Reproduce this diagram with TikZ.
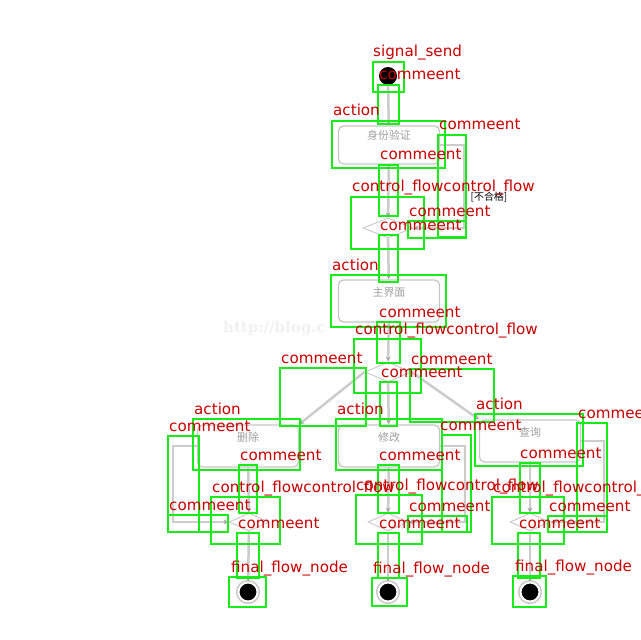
\documentclass[tikz,border=0pt]{standalone}
\usepackage{fontspec}
\usepackage{xcolor}
\usepackage{tikz}
\usetikzlibrary{positioning, shapes.geometric, arrows.meta}
\newfontfamily\cjk{Noto Sans CJK SC}
\newfontfamily\tagfont{DejaVu Sans}
\newfontfamily\wmfont{DejaVu Serif}
\definecolor{boxgreen}{RGB}{25,235,25}
\definecolor{tagred}{RGB}{200,0,0}

\begin{document}
\begin{tikzpicture}[x=1bp, y=-1bp]
	\tikzstyle{act}=[draw=gray!45, line width=1.3bp, rounded corners=5bp, minimum width=101bp, inner sep=4bp, text height=10bp, text depth=20bp, font=\cjk\fontsize{11}{11}\selectfont, text=gray!75]
	\tikzstyle{choice}=[diamond, draw=gray!40, line width=1bp, inner sep=0, minimum width=46bp, minimum height=20bp]
	\tikzstyle{startnode}=[circle, fill=black, minimum size=18bp, inner sep=0]
	\tikzstyle{endnode}=[circle, fill=black, minimum size=19bp, inner sep=0, draw=white, line width=2bp, preaction={draw=gray!45, line width=5bp}]
	\tikzstyle{flow}=[draw=gray!40, line width=2.5bp, -{Stealth[length=5bp, width=5bp, gray!70]}]
	\tikzstyle{bbox}=[draw=boxgreen, line width=2.8bp]
	\tikzstyle{tag}=[text=tagred, font=\tagfont\fontsize{15.2}{15.2}\selectfont, anchor=base west, inner sep=0]
	\useasboundingbox (0,0) rectangle (640,640);
	% activity diagram
	\node[startnode] (start) at (388,76) {};
	\node[act] (auth) at (389,145) {身份验证};
	\node[choice, minimum width=50bp] (d1) at (388,228) {};
	\node[act, minimum height=42bp] (home) at (389,301) {主界面};
	\node[choice] (d2) at (388,372) {};
	\node[act, minimum height=42bp] (del) at (248,446) {删除};
	\node[act, minimum height=42bp] (edit) at (389,446) {修改};
	\node[act, minimum height=42bp] (find) at (530,441) {查询};
	\node[choice, minimum width=40bp, minimum height=18bp] (d3) at (249,522) {};
	\node[choice, minimum width=40bp, minimum height=18bp] (d4) at (388,522) {};
	\node[choice, minimum width=40bp, minimum height=18bp] (d5) at (530,522) {};
	\node[endnode] (end1) at (248,592) {};
	\node[endnode] (end2) at (388,592) {};
	\node[endnode] (end3) at (530,592) {};
	\node[font=\cjk\fontsize{10}{10}\selectfont] (guard) at (489,197) {[不合格]};
	\node[font=\wmfont\bfseries\fontsize{15}{15}\selectfont, text=gray!12, anchor=west, inner sep=0] (mark) at (223,328) {http://blog.c};
	\draw[flow] (start) -- (auth);
	\draw[flow] (auth) -- (d1);
	\draw[flow] (auth.east) -- ++(24,0) |- (d1.east);
	\draw[flow] (d1) -- (home);
	\draw[flow] (home) -- (d2);
	\draw[flow] (d2.west) -- (del.north east);
	\draw[flow] (d2) -- (edit);
	\draw[flow] (d2.east) -- (find.north west);
	\draw[flow] (del) -- (d3);
	\draw[flow] (edit) -- (d4);
	\draw[flow] (find) -- (d5);
	\draw[flow] (del.west) -- ++(-24,0) |- (d3.west);
	\draw[flow] (edit.east) -- ++(25,0) |- (d4.east);
	\draw[flow] (find.east) -- ++(23,0) |- (d5.east);
	\draw[flow] (d3) -- (end1);
	\draw[flow] (d4) -- (end2);
	\draw[flow] (d5) -- (end3);
	% detection boxes
	\draw[bbox] (373,62) rectangle (404,92); \node[tag] (t1) at (373,57) {signal\_send};
	\draw[bbox] (378,85) rectangle (399,124); \node[tag] (t2) at (379,80) {commeent};
	\draw[bbox] (332,121) rectangle (445,168); \node[tag] (t3) at (333,116) {action};
	\draw[bbox] (438,135) rectangle (466,237); \node[tag] (t4) at (439,130) {commeent};
	\draw[bbox] (379,165) rectangle (398,216); \node[tag] (t5) at (380,160) {commeent};
	\draw[bbox] (351,197) rectangle (424,249); \node[tag] (t6) at (352,192) {control\_flowcontrol\_flow};
	\draw[bbox] (408,221) rectangle (466,238); \node[tag] (t7) at (409,216) {commeent};
	\draw[bbox] (379,235) rectangle (398,282); \node[tag] (t8) at (380,230) {commeent};
	\draw[bbox] (331,275) rectangle (446,327); \node[tag] (t9) at (332,270) {action};
	\draw[bbox] (377,322) rectangle (400,363); \node[tag] (t10) at (379,317) {commeent};
	\draw[bbox] (354,339) rectangle (421,393); \node[tag] (t11) at (355,334) {control\_flowcontrol\_flow};
	\draw[bbox] (280,368) rectangle (366,426); \node[tag] (t12) at (281,363) {commeent};
	\draw[bbox] (410,369) rectangle (494,422); \node[tag] (t13) at (411,364) {commeent};
	\draw[bbox] (380,382) rectangle (397,426); \node[tag] (t14) at (381,377) {commeent};
	\draw[bbox] (193,419) rectangle (300,470); \node[tag] (t15) at (194,414) {action};
	\draw[bbox] (336,419) rectangle (442,470); \node[tag] (t16) at (337,414) {action};
	\draw[bbox] (475,414) rectangle (583,466); \node[tag] (t17) at (476,409) {action};
	\draw[bbox] (168,436) rectangle (199,532); \node[tag] (t18) at (169,431) {commeent};
	\draw[bbox] (442,435) rectangle (471,532); \node[tag] (t19) at (440,430) {commeent};
	\draw[bbox] (577,423) rectangle (607,532); \node[tag] (t20) at (578,418) {commeent};
	\draw[bbox] (239,465) rectangle (257,513); \node[tag] (t21) at (240,460) {commeent};
	\draw[bbox] (378,465) rectangle (399,513); \node[tag] (t22) at (379,460) {commeent};
	\draw[bbox] (520,463) rectangle (540,513); \node[tag] (t23) at (520,458) {commeent};
	\draw[bbox] (211,497) rectangle (280,544); \node[tag] (t24) at (212,492) {control\_flowcontrol\_flow};
	\draw[bbox] (356,495) rectangle (422,544); \node[tag] (t25) at (356,490) {control\_flowcontrol\_flow};
	\draw[bbox] (492,497) rectangle (564,544); \node[tag] (t26) at (493,492) {control\_flowcontrol\_flow};
	\draw[bbox] (168,515) rectangle (228,532); \node[tag] (t27) at (169,510) {commeent};
	\draw[bbox] (408,516) rectangle (467,532); \node[tag] (t28) at (409,511) {commeent};
	\draw[bbox] (548,516) rectangle (607,532); \node[tag] (t29) at (549,511) {commeent};
	\draw[bbox] (237,533) rectangle (259,578); \node[tag] (t30) at (238,528) {commeent};
	\draw[bbox] (378,533) rectangle (399,578); \node[tag] (t31) at (379,528) {commeent};
	\draw[bbox] (518,533) rectangle (540,578); \node[tag] (t32) at (519,528) {commeent};
	\draw[bbox] (229,577) rectangle (266,607); \node[tag] (t33) at (231,572) {final\_flow\_node};
	\draw[bbox] (372,578) rectangle (407,606); \node[tag] (t34) at (373,573) {final\_flow\_node};
	\draw[bbox] (513,576) rectangle (546,607); \node[tag] (t35) at (515,571) {final\_flow\_node};
\end{tikzpicture}
\end{document}
